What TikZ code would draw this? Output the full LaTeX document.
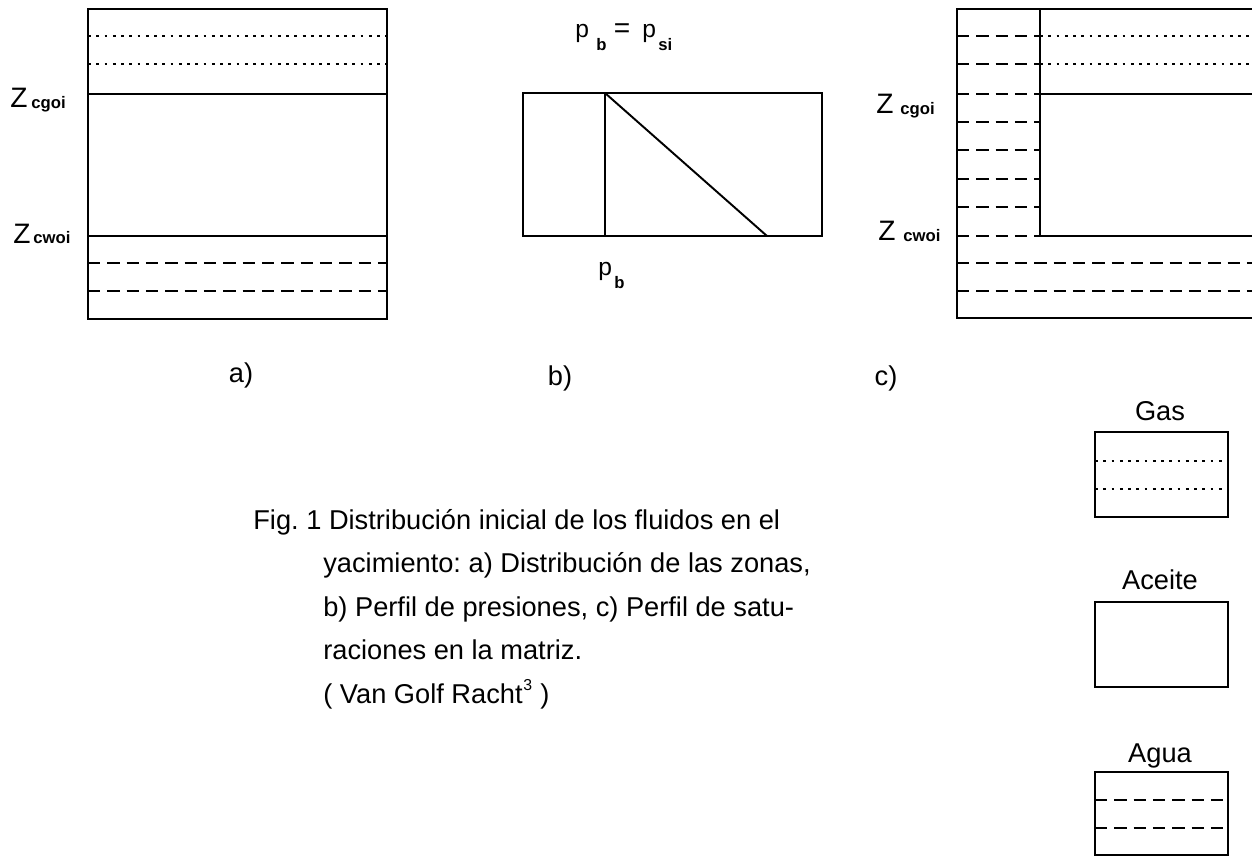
\documentclass[tikz,border=0pt]{standalone}
\usepackage{fontspec}
\setmainfont{Liberation Sans}
\frenchspacing
\begin{document}
\begin{tikzpicture}[x=0.02cm,y=-0.02cm,
  frame/.style={line width=1.1pt},
  gasline/.style={line width=1.1pt,dash pattern=on 1.6pt off 3.1pt},
  wline/.style={line width=1.1pt,dash pattern=on 7pt off 4pt},
  lbl/.style={inner sep=0pt,font=\fontsize{15.5}{18}\selectfont},
  zbig/.style={inner sep=0pt,font=\fontsize{16}{19}\selectfont},
  zsub/.style={inner sep=0pt,font=\fontsize{9.5}{11}\selectfont\bfseries},
  pbig/.style={inner sep=0pt,font=\fontsize{14}{16}\selectfont},
  psub/.style={inner sep=0pt,font=\fontsize{9.5}{11}\selectfont\bfseries}]
\useasboundingbox (0,0) rectangle (1252,856);
\clip (0,0) rectangle (1252,856);
% ---------- a) ----------
\draw[frame] (88,9) rectangle (387,319);
\draw[gasline] (88,36) -- (387,36);
\draw[gasline] (88,64) -- (387,64);
\draw[frame] (88,94) -- (387,94);
\draw[frame] (88,236) -- (387,236);
\draw[wline] (88,263) -- (387,263);
\draw[wline] (88,291) -- (387,291);
\node[zbig,anchor=base west] (za1) at (10,107) {Z};
\node[zsub,anchor=base west] (za1s) at (31,108) {cgoi};
\node[zbig,anchor=base west] (za2) at (13,243) {Z};
\node[zsub,anchor=base west] (za2s) at (33,243) {cwoi};
\node[lbl,anchor=base] (la) at (241,382) {a)};
% ---------- b) ----------
\draw[frame] (523,93) rectangle (822,236);
\draw[frame] (605,93) -- (605,236);
\draw[frame] (605,93) -- (767,236);
\node[pbig,anchor=base west] (p1) at (575,37) {p};
\node[psub,anchor=base west] (p1s) at (596,50) {b};
\node[inner sep=0pt,anchor=base,font=\fontsize{16}{18}\selectfont] (eq) at (622,37) {=};
\node[pbig,anchor=base west] (p2) at (642,37) {p};
\node[psub,anchor=base west] (p2s) at (658,50) {si};
\node[pbig,anchor=base west] (p3) at (598,275) {p};
\node[psub,anchor=base west] (p3s) at (614,288) {b};
\node[lbl,anchor=base] (lb) at (560,385) {b)};
% ---------- c) ----------
\draw[frame] (1262,9) -- (957,9) -- (957,318) -- (1262,318);
\draw[frame] (1040,9) -- (1040,236);
\draw[frame] (1040,94) -- (1262,94);
\draw[frame] (1040,236) -- (1262,236);
\foreach \yy in {36,64,94,122,150,179,207,236}
  \draw[wline] (957,\yy) -- (1040,\yy);
\draw[gasline] (1040,36) -- (1262,36);
\draw[gasline] (1040,64) -- (1262,64);
\draw[wline] (957,263) -- (1262,263);
\draw[wline] (957,291) -- (1262,291);
\node[zbig,anchor=base west] (zc1) at (876,113) {Z};
\node[zsub,anchor=base west] (zc1s) at (900,114) {cgoi};
\node[zbig,anchor=base west] (zc2) at (878,240) {Z};
\node[zsub,anchor=base west] (zc2s) at (903,241) {cwoi};
\node[lbl,anchor=base] (lc) at (886,385) {c)};
% ---------- legend ----------
\node[lbl,anchor=base] (lgas) at (1160,420) {Gas};
\draw[frame] (1095,432) rectangle (1228,517);
\draw[gasline] (1095,461) -- (1228,461);
\draw[gasline] (1095,489) -- (1228,489);
\node[lbl,anchor=base] (lace) at (1160,589) {Aceite};
\draw[frame] (1095,602) rectangle (1228,687);
\node[lbl,anchor=base] (lagu) at (1160,762) {Agua};
\draw[frame] (1095,855) -- (1095,772) -- (1228,772) -- (1228,855) -- cycle;
\draw[wline] (1095,800) -- (1228,800);
\draw[wline] (1095,828) -- (1228,828);
% ---------- caption ----------
\node[lbl,anchor=base west] (cap1) at (253,529) {Fig. 1 Distribución inicial de los fluidos en el};
\node[lbl,anchor=base west] (cap2) at (323,572) {yacimiento: a) Distribución de las zonas,};
\node[lbl,anchor=base west] (cap3) at (323,616) {b) Perfil de presiones, c) Perfil de satu-};
\node[lbl,anchor=base west] (cap4) at (323,659) {raciones en la matriz.};
\node[lbl,anchor=base west] (cap5) at (323,703) {( Van Golf Racht};
\node[inner sep=0pt,anchor=base west,font=\fontsize{9}{10}\selectfont] (sup3) at (523,690) {3};
\node[lbl,anchor=base west] (cap5b) at (540,703) {)};
\end{tikzpicture}
\end{document}
